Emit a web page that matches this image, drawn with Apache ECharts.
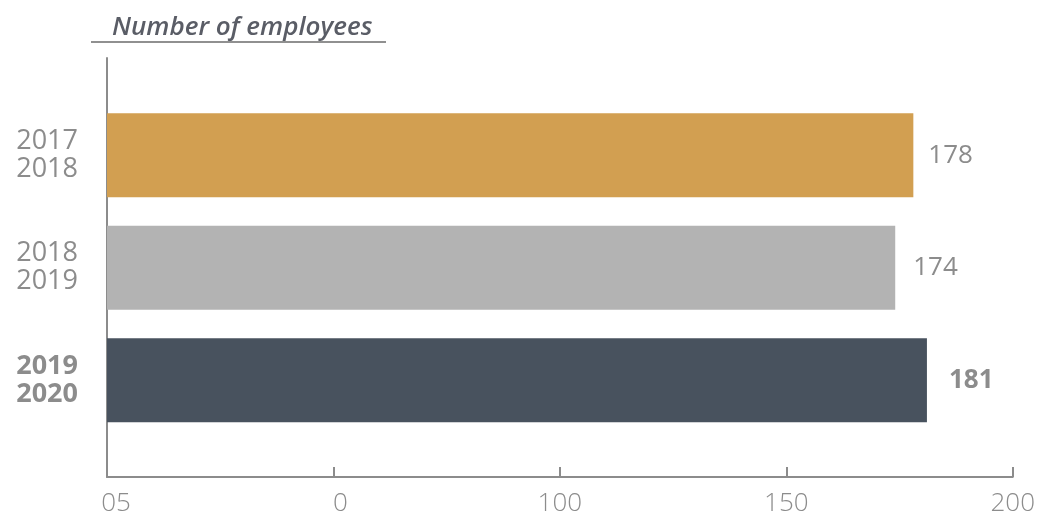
<!DOCTYPE html>
<html><head><meta charset="utf-8">
<script src="https://cdn.jsdelivr.net/npm/echarts@6/dist/echarts.min.js"></script>
<style>html,body{margin:0;padding:0;background:#fff}#c{width:1038px;height:517px}</style>
</head><body><div id="c"></div>
<script>
const categories = ['2017\n2018', '2018\n2019', '2019\n2020'];
const values = [178, 174, 181];
const barColors = ['#d29f51', '#b3b3b3', '#48525e'];
const xTickLabels = ['05', '0', '100', '150', '200'];
const titleText = 'Number of employees';

const chart = echarts.init(document.getElementById('c'));
const FONT = '"Open Sans", "Noto Sans", sans-serif';
const GREY = '#8c8c8c';
chart.setOption({
  animation: false,
  title: {
    text: titleText, left: 107, top: 10,
    textStyle: { fontFamily: FONT, fontStyle: 'italic', fontWeight: 600, fontSize: 26, color: '#5a5d66' }
  },
  graphic: [{ type: 'line', shape: { x1: 91, y1: 42, x2: 386, y2: 42 }, style: { stroke: '#6b6b6b', lineWidth: 1.5 } }],
  grid: [
    { left: 107, right: 25, top: 99, height: 337.5 },
    { left: 107, right: 25, top: 58, bottom: 40 }
  ],
  xAxis: [
    { gridIndex: 0, type: 'value', min: 0, max: 200, show: false },
    { gridIndex: 1, type: 'value', min: 0, max: 200, interval: 50,
      axisLine: { show: true, lineStyle: { color: GREY, width: 2 } },
      axisTick: { show: true, inside: true, length: 10, lineStyle: { color: GREY, width: 2 } },
      splitLine: { show: false },
      axisLabel: { margin: 14, color: GREY, fontFamily: FONT, fontWeight: 300, fontSize: 26,
        formatter: (v, i) => i === 0 ? '{a|' + xTickLabels[i] + '}' : (i === 1 ? '{b|' + xTickLabels[i] + '}' : xTickLabels[i]),
        rich: { a: { padding: [0, 0, 0, 18], color: GREY, fontFamily: FONT, fontWeight: 300, fontSize: 26 },
                b: { padding: [0, 0, 0, 14], color: GREY, fontFamily: FONT, fontWeight: 300, fontSize: 26 } } }
    }
  ],
  yAxis: [
    { gridIndex: 0, type: 'category', data: categories, inverse: true,
      axisLine: { show: false }, axisTick: { show: false },
      axisLabel: { margin: 29, color: GREY, fontFamily: FONT, fontSize: 27, lineHeight: 28, align: 'right',
        formatter: (v, i) => i === 2 ? '{b|' + v.split('\n').join('}\n{b|') + '}' : v,
        rich: { b: { fontWeight: 'bold', color: GREY, fontFamily: FONT, fontSize: 27, lineHeight: 28 } } }
    },
    { gridIndex: 1, type: 'value', min: 0, max: 1,
      axisLine: { show: true, lineStyle: { color: GREY, width: 2 } },
      axisTick: { show: false }, axisLabel: { show: false }, splitLine: { show: false } }
  ],
  series: [{
    type: 'bar', xAxisIndex: 0, yAxisIndex: 0, barWidth: 84,
    data: values.map((v, i) => ({
      value: v,
      itemStyle: { color: barColors[i] },
      label: i === 2 ? { fontWeight: 'bold', distance: 22 } : { distance: i === 1 ? 18 : 15 }
    })),
    label: { show: true, position: 'right', color: GREY, fontFamily: FONT, fontSize: 26 }
  }]
});
</script></body></html>
